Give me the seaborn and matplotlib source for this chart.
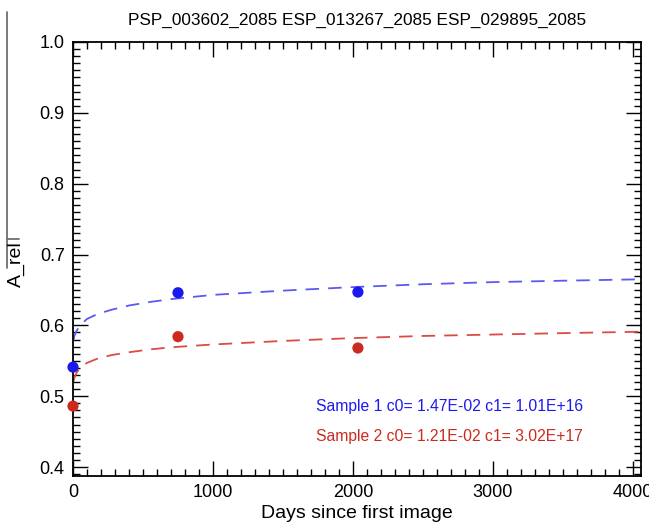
import numpy as np
import pandas as pd
import matplotlib
matplotlib.use('Agg')
import matplotlib.pyplot as plt
from matplotlib.ticker import MultipleLocator, FormatStrFormatter
from matplotlib.lines import Line2D
import seaborn as sns

# ===============================
# DATA
# ===============================
obs_days = [0, 750, 2035]
sample1_obs = [0.541, 0.646, 0.647]
sample2_obs = [0.486, 0.584, 0.568]

fit_days = [2, 10, 25, 50, 100, 175, 275, 400, 550, 700, 1000, 1500, 2000, 2500, 3000, 3500, 4057]
sample1_fit = [0.578, 0.585, 0.592, 0.600, 0.609, 0.616, 0.622, 0.628, 0.633, 0.637,
               0.643, 0.649, 0.654, 0.658, 0.661, 0.663, 0.665]
sample2_fit = [0.520, 0.526, 0.533, 0.540, 0.547, 0.553, 0.558, 0.562, 0.566, 0.569,
               0.573, 0.578, 0.582, 0.585, 0.587, 0.589, 0.591]

labels = ['Sample 1 c0= 1.47E-02 c1= 1.01E+16',
          'Sample 2 c0= 1.21E-02 c1= 3.02E+17']

title = 'PSP_003602_2085 ESP_013267_2085 ESP_029895_2085'

pt_colors = ['#1a1aee', '#cc2a1e']
line_colors = ['#5a5af2', '#dc4a44']

sns.set_style('ticks')
plt.rcParams['font.family'] = ['Liberation Sans', 'DejaVu Sans']
plt.rcParams['text.color'] = 'black'
plt.rcParams['axes.labelcolor'] = 'black'
plt.rcParams['xtick.color'] = 'black'
plt.rcParams['ytick.color'] = 'black'

W, H = 649, 527
fig = plt.figure(figsize=(W / 100, H / 100), dpi=100)
ax = fig.add_axes([73 / W, 1 - 476 / H, 568 / W, 434 / H])

for fit, obs, lc, pc in zip([sample1_fit, sample2_fit],
                            [sample1_obs, sample2_obs],
                            line_colors, pt_colors):
    sns.lineplot(x=fit_days, y=fit, ax=ax, color=lc, linewidth=1.3,
                 linestyle=(0, (7.5, 5)), zorder=2)
    sns.scatterplot(x=obs_days, y=obs, ax=ax, color=pc, s=65,
                    edgecolor='none', zorder=3, clip_on=False)

ax.set_xlim(0, 4057)
ax.set_ylim(0.3873, 1.0)
ax.xaxis.set_major_locator(MultipleLocator(1000))
ax.xaxis.set_minor_locator(MultipleLocator(100))
ax.yaxis.set_major_locator(MultipleLocator(0.1))
ax.yaxis.set_minor_locator(MultipleLocator(0.01))
ax.yaxis.set_major_formatter(FormatStrFormatter('%.1f'))
ax.tick_params(which='both', direction='in', top=True, right=True,
               color='black', labelcolor='black', width=1.0,
               labelsize=13, pad=6)
ax.tick_params(which='major', length=11)
ax.tick_params(which='minor', length=5)
for s in ax.spines.values():
    s.set_linewidth(1.3)
    s.set_color('black')

ax.set_xlabel('Days since first image', fontsize=14, labelpad=3)
ax.set_ylabel('')
ax.set_title(title, fontsize=12.4, pad=12, color='black')
fig.text(16 / W, 1 - 264 / H, 'A_rel', rotation=90, fontsize=14,
         ha='center', va='center')

ax.text(0.428, 0.159, labels[0], transform=ax.transAxes, color=pt_colors[0],
        fontsize=11.3, ha='left', va='center')
ax.text(0.428, 0.090, labels[1], transform=ax.transAxes, color=pt_colors[1],
        fontsize=11.3, ha='left', va='center')

# stray bar from the original label rendering
fig.add_artist(Line2D([7 / W, 7 / W], [1 - 12 / H, 1 - 268 / H],
                      transform=fig.transFigure, color='#707070', lw=1.3))
fig.add_artist(Line2D([7 / W, 19 / W], [1 - 239 / H, 1 - 239 / H],
                      transform=fig.transFigure, color='#707070', lw=1.3))

fig.savefig('out.png', dpi=100)
